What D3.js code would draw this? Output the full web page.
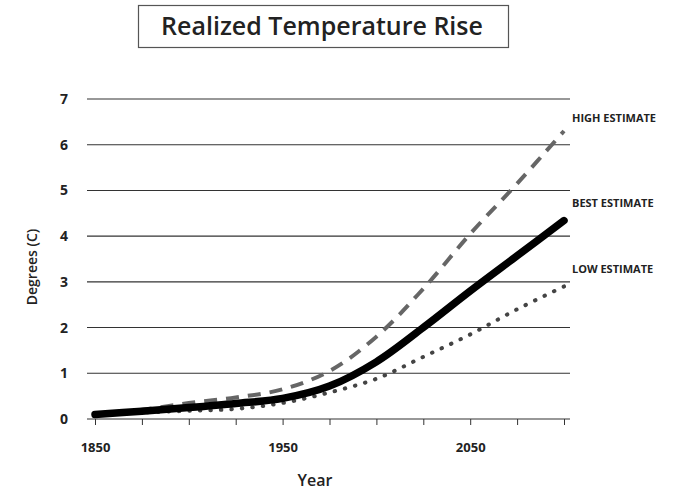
<!DOCTYPE html>
<html>
<head>
<meta charset="utf-8">
<script src="https://cdn.jsdelivr.net/npm/d3@7"></script>
<style>
  body { margin: 0; background: #fff; }
  text { font-family: "Open Sans", "Noto Sans", sans-serif; fill: #222; }
</style>
</head>
<body>
<div class="chart"></div>
<script>
var wi = 695;
var he = 495;

// data
var years = [1850, 1875, 1900, 1925, 1950, 1975, 2000, 2025, 2050, 2075, 2100];
var highEstimate = [0.1, 0.2, 0.35, 0.47, 0.65, 1.05, 1.8, 2.85, 4.05, 5.15, 6.3];
var bestEstimate = [0.1, 0.17, 0.25, 0.34, 0.45, 0.72, 1.25, 2.0, 2.8, 3.57, 4.34];
var lowEstimate = [0.08, 0.14, 0.18, 0.22, 0.35, 0.58, 0.88, 1.36, 1.85, 2.4, 2.9];
var yTicks = [0, 1, 2, 3, 4, 5, 6, 7];
var xTicks = [1850, 1875, 1900, 1925, 1950, 1975, 2000, 2025, 2050, 2075, 2100];
var xLabels = [1850, 1950, 2050];

var xScale = d3.scaleLinear()
    .domain([1850, 2100])
    .range([95, 564]);
var yScale = d3.scaleLinear()
    .domain([0, 7])
    .range([419, 99]);

var svg = d3.select(".chart")
  .append("svg")
    .attr("width", wi)
    .attr("height", he);

// title box
svg.append("rect")
    .attr("x", 138.5)
    .attr("y", 5.5)
    .attr("width", 370)
    .attr("height", 42)
    .attr("fill", "none")
    .attr("stroke", "#555")
    .attr("stroke-width", 1.2);

svg.append("text")
    .attr("x", 322)
    .attr("y", 35)
    .attr("text-anchor", "middle")
    .style("font-size", "25px")
    .style("font-weight", 600)
    .text("Realized Temperature Rise");

// gridlines
svg.append("g")
  .selectAll("line")
  .data(yTicks)
  .enter()
  .append("line")
    .attr("x1", 87)
    .attr("x2", 570)
    .attr("y1", function(d) { return yScale(d); })
    .attr("y2", function(d) { return yScale(d); })
    .attr("stroke", "#333")
    .attr("stroke-width", 1.1);

// y labels
svg.append("g")
  .selectAll("text")
  .data(yTicks)
  .enter()
  .append("text")
    .attr("x", 68)
    .attr("y", function(d) { return yScale(d) + 5; })
    .attr("text-anchor", "end")
    .style("font-size", "14px")
    .style("font-weight", 700)
    .text(function(d) { return d; });

// x axis ticks
var xAxis = d3.axisBottom(xScale)
    .tickValues(xTicks)
    .tickSize(6)
    .tickFormat(function(d) { return xLabels.indexOf(d) > -1 ? d : ""; });

var gx = svg.append("g")
    .attr("transform", "translate(0," + yScale(0) + ")")
    .call(xAxis);
gx.select(".domain").remove();
gx.selectAll(".tick line").attr("stroke", "#333");
gx.selectAll(".tick text")
    .attr("y", 24)
    .style("font-family", "'Open Sans', sans-serif")
    .style("font-size", "13px")
    .style("font-weight", 700)
    .attr("fill", "#222");

svg.append("text")
    .attr("x", 315)
    .attr("y", 486)
    .attr("text-anchor", "middle")
    .style("font-size", "16px")
    .style("font-weight", 600)
    .text("Year");

svg.append("text")
    .attr("transform", "translate(37,267) rotate(-90)")
    .attr("text-anchor", "middle")
    .style("font-size", "14px")
    .style("font-weight", 600)
    .text("Degrees (C)");

// lines
var line = function(vals) {
  return d3.line()
      .x(function(d, i) { return xScale(years[i]); })
      .y(function(d) { return yScale(d); })
      .curve(d3.curveCatmullRom.alpha(0.5))(vals);
};

svg.append("path")
    .attr("d", line(lowEstimate))
    .attr("fill", "none")
    .attr("stroke", "#444")
    .attr("stroke-width", 4)
    .attr("stroke-linecap", "round")
    .attr("stroke-dasharray", "0.5,10");

svg.append("path")
    .attr("d", line(highEstimate))
    .attr("fill", "none")
    .attr("stroke", "#666")
    .attr("stroke-width", 4)
    .attr("stroke-dasharray", "13,9");

svg.append("path")
    .attr("d", line(bestEstimate))
    .attr("fill", "none")
    .attr("stroke", "#000")
    .attr("stroke-width", 7.5)
    .attr("stroke-linecap", "round");

// series labels
var labels = [
  {t: "HIGH ESTIMATE", y: 122},
  {t: "BEST ESTIMATE", y: 207},
  {t: "LOW ESTIMATE", y: 273}
];
svg.append("g")
  .selectAll("text")
  .data(labels)
  .enter()
  .append("text")
    .attr("x", 572)
    .attr("y", function(d) { return d.y; })
    .style("font-family", "'Liberation Sans Narrow', 'Open Sans', sans-serif")
    .style("font-size", "11px")
    .style("font-weight", 700)
    .attr("fill", "#333")
    .text(function(d) { return d.t; });
</script>
</body>
</html>
